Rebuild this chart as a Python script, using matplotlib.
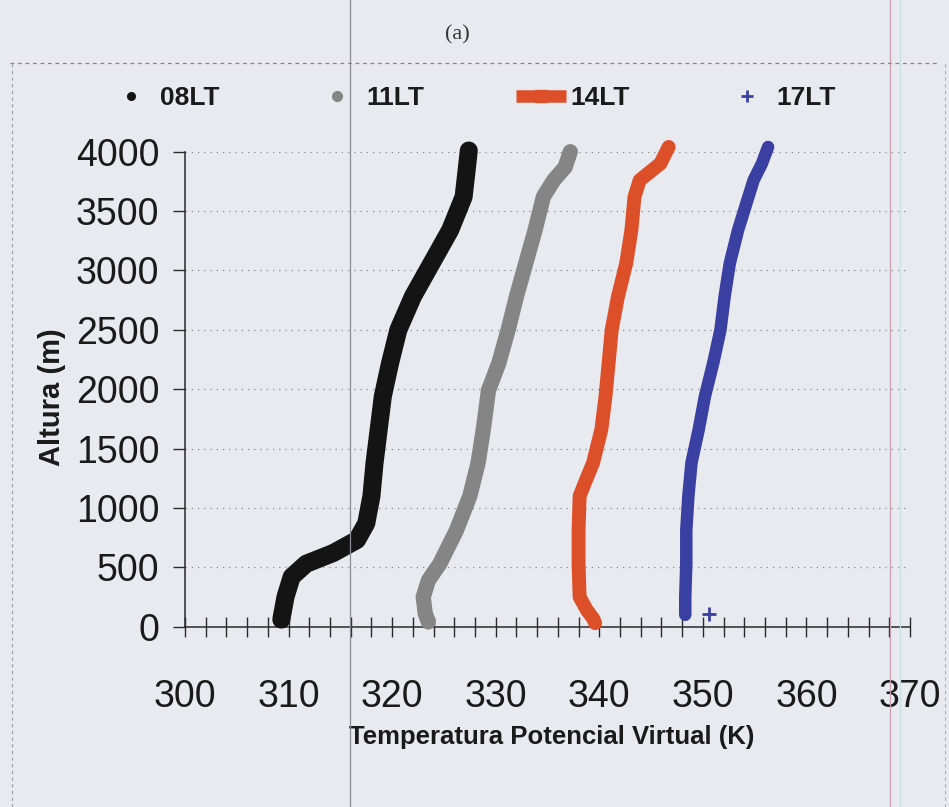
import matplotlib
matplotlib.use("Agg")
import matplotlib.pyplot as plt
from matplotlib.lines import Line2D
import numpy as np

# virtual potential temperature profiles (K) against height (m)
h08 = [60, 250, 420, 530, 620, 730, 870, 1100, 1380, 1660, 1940, 2220, 2500, 2780, 3060, 3340, 3620, 3850, 4010]
t08 = [309.3, 309.7, 310.3, 311.7, 314.3, 316.6, 317.5, 318.0, 318.3, 318.7, 319.1, 319.8, 320.6, 322.0, 323.8, 325.6, 326.9, 327.2, 327.4]

h11 = [40, 110, 250, 390, 530, 810, 1100, 1380, 1660, 1990, 2220, 2500, 2780, 3060, 3340, 3620, 3760, 3870, 4000]
t11 = [323.5, 323.2, 323.0, 323.5, 324.6, 326.2, 327.5, 328.3, 328.8, 329.3, 330.3, 331.2, 332.0, 332.9, 333.8, 334.6, 335.6, 336.7, 337.2]

h14 = [30, 70, 140, 250, 530, 810, 1100, 1210, 1380, 1660, 1940, 2220, 2500, 2780, 3060, 3340, 3620, 3760, 3900, 4040]
t14 = [339.6, 339.4, 338.8, 338.1, 338.0, 338.0, 338.1, 338.6, 339.4, 340.2, 340.6, 340.9, 341.2, 341.8, 342.6, 343.1, 343.4, 343.9, 345.9, 346.7]

h17 = [100, 250, 530, 810, 1100, 1380, 1660, 1940, 2220, 2500, 2780, 3060, 3340, 3620, 3760, 3900, 4040]
t17 = [348.3, 348.3, 348.4, 348.4, 348.6, 348.9, 349.6, 350.2, 351.0, 351.7, 352.1, 352.6, 353.4, 354.4, 354.9, 355.7, 356.3]
# surface reading of the 17LT sounding
h17_sfc = [110]
t17_sfc = [350.6]

labels = ["08LT", "11LT", "14LT", "17LT"]
x_ticks = [300, 310, 320, 330, 340, 350, 360, 370]
y_ticks = [0, 500, 1000, 1500, 2000, 2500, 3000, 3500, 4000]

bg = "#e9e9f0"
ink = "#2a2a2a"
c08, c11, c14, c17 = "#141414", "#858585", "#dc4f28", "#3a3fa2"

fig = plt.figure(figsize=(9.49, 8.07), dpi=100, facecolor=bg)
W, H = 949, 807

# page rules around the chart
fig.add_artist(Line2D([350 / W, 350 / W], [0, 1], color="#8c8c98", lw=0.9))
fig.add_artist(Line2D([890 / W, 890 / W], [0, 1], color="#c9a0b0", lw=0.9))
fig.add_artist(Line2D([900 / W, 900 / W], [0, 1], color="#c8e2e4", lw=0.9))
fig.add_artist(Line2D([10 / W, 940 / W], [1 - 63 / H, 1 - 63 / H], color="#a87878", lw=0.9, ls=(0, (3, 3))))
fig.add_artist(Line2D([12 / W, 12 / W], [0, 1 - 63 / H], color="#a0a0aa", lw=0.8, ls=(0, (3, 3))))
fig.add_artist(Line2D([945 / W, 945 / W], [0, 1 - 63 / H], color="#b0b0b8", lw=0.8, ls=(0, (3, 3))))

ax = fig.add_axes([185 / W, 1 - 626.7 / H, 725 / W, 475 / H], facecolor=bg)
ax.set_xlim(300, 370)
ax.set_ylim(0, 4000)

style = dict(solid_capstyle="round", solid_joinstyle="round", clip_on=False, zorder=3)
ax.plot(t08, h08, color=c08, lw=13, **style)
ax.plot(t11, h11, color=c11, lw=11, **style)
ax.plot(t14, h14, color=c14, lw=10, **style)
ax.plot(t17, h17, color=c17, lw=9, **style)
ax.plot(t17_sfc, h17_sfc, ls="none", marker="+", ms=10, mew=2, color=c17, clip_on=False, zorder=3)

for s in ["top", "right"]:
    ax.spines[s].set_visible(False)
for s in ["left", "bottom"]:
    ax.spines[s].set_color(ink)
    ax.spines[s].set_linewidth(1.1)

ax.set_xticks(x_ticks)
ax.set_xticks(np.arange(300, 371, 2), minor=True)
ax.set_yticks(y_ticks)
ax.tick_params(axis="x", which="both", direction="inout", length=15, width=1, color=ink)
ax.tick_params(axis="x", which="major", pad=30, labelsize=27, labelcolor="#1a1a1a")
ax.tick_params(axis="y", direction="out", length=8.5, width=1, color=ink, pad=10, labelsize=27, labelcolor="#1a1a1a")
for lab in ax.get_xticklabels() + ax.get_yticklabels():
    lab.set_family("Liberation Sans")

ax.yaxis.grid(True, ls=(0, (1, 4)), color="#8a8a8a", lw=0.9)
ax.set_axisbelow(True)

ax.set_xlabel("Temperatura Potencial Virtual (K)", family="Liberation Sans", fontweight="bold",
              fontsize=18.5, color="#1a1a1a", va="center")
ax.xaxis.set_label_coords((552 - 185) / 725, (626.7 - 737) / 475)
ax.set_ylabel("Altura (m)", family="Liberation Sans", fontweight="bold", fontsize=21,
              color="#1a1a1a", va="center")
ax.yaxis.set_label_coords((52 - 185) / 725, (626.7 - 397) / 475)

fig.text(457 / W, 1 - 35 / H, "(a)", family="Liberation Serif", fontsize=16, color="#333333",
         ha="center", va="center")

handles = [
    Line2D([], [], ls="none", marker="o", ms=5.5, color=c08),
    Line2D([], [], ls="none", marker="o", ms=7, color=c11),
    Line2D([], [], color=c14, lw=9, marker="s", ms=9, solid_capstyle="butt"),
    Line2D([], [], ls="none", marker="+", ms=9, mew=2, color=c17),
]
leg = fig.legend(handles, labels, loc="center left", bbox_to_anchor=(106 / W, 1 - 98 / H),
                 ncol=4, frameon=False, borderpad=0, borderaxespad=0, handlelength=1.9,
                 handletextpad=0.15, columnspacing=3.5,
                 prop={"family": "Liberation Sans", "weight": "bold", "size": 19})
for t in leg.get_texts():
    t.set_color("#1a1a1a")

fig.savefig("out.png", dpi=100, facecolor=bg)
